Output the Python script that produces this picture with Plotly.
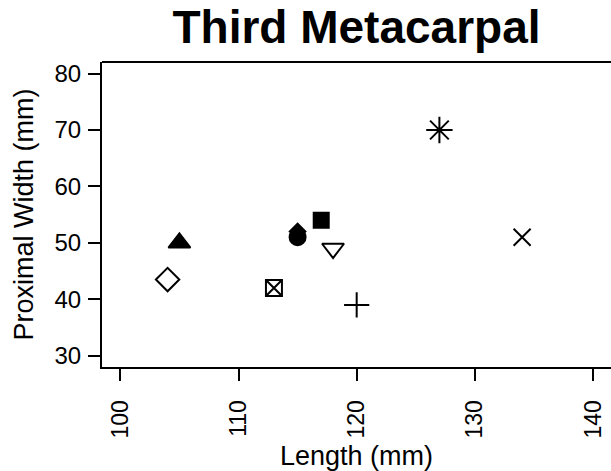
import plotly.graph_objects as go

# Data
length_mm = [104, 105, 113, 115, 115, 117, 118, 120, 127, 134]
proximal_width_mm = [43.5, 50, 42, 52, 51, 54, 49, 39, 70, 51]

x_ticks = [100, 110, 120, 130, 140]
y_ticks = [30, 40, 50, 60, 70, 80]

# Styles
symbols = ["diamond-open", "triangle-up", "square-x-open", "diamond", "circle",
           "square", "triangle-down-open", "cross-thin-open", "asterisk-open", "x-thin-open"]
sizes = [18, 19, 16, 12, 16, 15, 19, 18, 22, 17]

W, H = 611, 471
L, T, B = 102, 62, 104

fig = go.Figure()
fig.add_trace(go.Scatter(
    x=length_mm, y=proximal_width_mm, mode="markers",
    marker=dict(symbol=symbols, size=sizes, color="black", opacity=1,
                line=dict(color="black", width=2)),
    showlegend=False, hoverinfo="x+y"))

font_family = "Liberation Sans, Arial, sans-serif"
fig.update_layout(
    width=W, height=H, autosize=False,
    margin=dict(l=L, r=0, t=T, b=B, autoexpand=False),
    paper_bgcolor="white", plot_bgcolor="white",
    font=dict(family=font_family, color="black"),
    title=dict(text="<b>Third Metacarpal</b>", x=(L + W) / 2 / W, xanchor="center",
               y=1 - 11 / H, yanchor="top", font=dict(size=46, color="black")),
    xaxis=dict(range=[98.45, 141.52], tickvals=x_ticks, ticks="outside", ticklen=12,
               tickwidth=2, tickcolor="black", showline=True, linewidth=2, linecolor="black",
               showgrid=False, zeroline=False, tickangle=-90, tickfont=dict(size=23),
               ticklabelstandoff=10, automargin=False,
               title=dict(text="Length (mm)", font=dict(size=27), standoff=9)),
    yaxis=dict(range=[28, 82.05], tickvals=y_ticks, ticks="outside", ticklen=12,
               tickwidth=2, tickcolor="black", showline=True, linewidth=2, linecolor="black",
               showgrid=False, zeroline=False, tickfont=dict(size=24),
               ticklabelstandoff=2, automargin=False,
               title=dict(text="Proximal Width (mm)", font=dict(size=27), standoff=13)),
    shapes=[dict(type="line", xref="paper", yref="paper", x0=0, x1=1, y0=1, y1=1,
                 line=dict(color="black", width=2))],
)

fig.write_html("out.html",
               config={"displayModeBar": False},
               post_script="document.body.style.margin='0';"
                           "document.body.style.overflow='hidden';")
